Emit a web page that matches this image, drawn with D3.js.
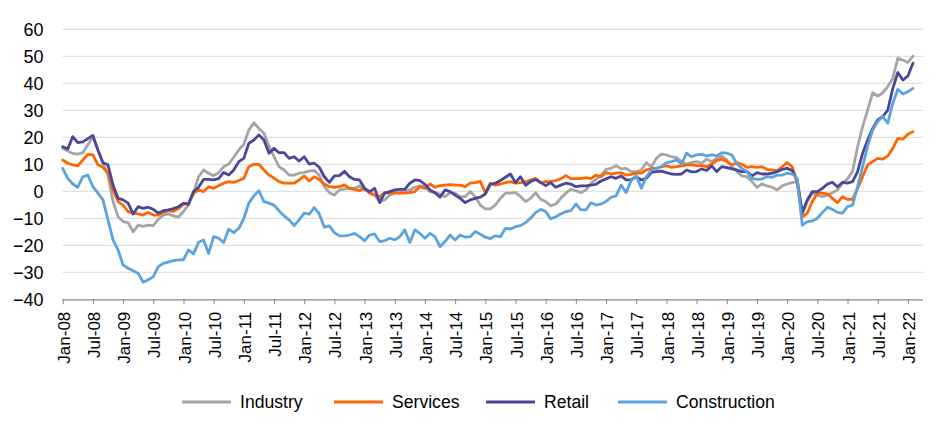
<!DOCTYPE html>
<html><head><meta charset="utf-8">
<script src="https://cdn.jsdelivr.net/npm/d3@7"></script>
<style>html,body{margin:0;padding:0;background:#fff;}svg{display:block;}</style>
</head><body>
<svg id="chart" width="952" height="438"></svg>
<script>
// Monthly categories Jan-08 .. Feb-22
const months = d3.timeMonth.range(new Date(2008,0,1), new Date(2022,2,1));
const seriesNames = ["Industry","Services","Retail","Construction"];
const seriesColors = ["#A5A5A5","#FF6600","#4B4798","#5BA3DC"];
const yTicks = [-40,-30,-20,-10,0,10,20,30,40,50,60];
const fmtTick = d3.timeFormat("%b-%y");

const industry = [
15.9,14.9,14.0,13.8,14.3,17.2,20.2,15.3,10.4,6.0,-3.8,-9.4,
-11.2,-11.6,-15.0,-12.5,-13.0,-12.5,-12.7,-10.4,-8.8,-8.4,-9.1,-9.6,
-7.5,-5.0,-0.7,5.4,7.9,6.7,5.8,6.9,9.1,10.1,12.6,15.3,
17.5,22.7,25.4,23.3,21.5,16.8,12.8,9.1,7.9,6.0,6.0,6.7,
7.0,7.5,7.7,6.0,1.7,-0.5,-1.4,0.5,0.9,1.1,1.1,2.0,
0.5,-0.1,-1.4,-3.8,-3.2,-1.4,-0.7,-0.5,-0.1,0.5,1.5,2.0,
1.7,-0.1,-0.5,-1.0,-2.0,-0.5,-0.7,-2.0,-2.0,-0.1,-2.0,-5.1,
-6.5,-6.5,-5.1,-2.6,-0.7,-0.7,-0.5,-2.0,-3.8,-2.6,-0.5,-3.0,
-3.8,-5.4,-4.7,-2.6,-0.7,0.7,0.2,-0.5,0.5,3.0,4.4,6.0,
8.1,8.5,9.5,8.3,8.5,7.3,7.3,7.9,10.6,9.1,12.2,13.8,
13.5,12.8,12.5,11.0,10.0,10.6,11.0,10.4,11.9,11.0,12.2,13.1,
11.6,9.1,7.3,5.7,5.4,3.6,1.5,2.7,2.0,1.5,0.5,2.0,
2.7,3.2,3.6,-8.5,-3.8,-0.7,-1.4,-2.0,-1.4,-0.5,0.5,3.0,
4.6,7.3,16.5,24.0,30.1,36.5,35.3,36.5,38.8,41.9,49.3,48.6,47.7,50.1];

const services = [
11.6,10.4,9.8,9.4,11.6,13.7,13.5,9.8,8.9,6.7,0.5,-3.8,
-5.1,-7.5,-8.1,-8.4,-8.8,-7.8,-8.8,-8.8,-7.8,-7.2,-7.4,-6.4,
-4.8,-4.4,-0.7,0.5,-0.1,1.7,1.1,2.1,3.0,3.6,3.3,4.0,
4.8,9.1,10.0,10.0,7.9,6.0,4.9,3.6,3.0,3.0,3.0,4.2,
5.7,3.8,5.4,4.4,2.7,1.7,1.5,1.7,2.4,1.1,0.7,0.2,
1.1,-0.7,-1.4,-2.0,-0.5,-0.7,-0.5,-0.7,-0.7,-0.5,-0.1,1.7,
1.1,2.7,1.5,2.1,2.3,2.5,2.3,2.3,1.7,3.0,3.2,3.7,
-0.5,3.0,2.3,2.7,3.2,3.6,3.0,3.2,3.6,4.2,4.8,3.2,
3.6,3.6,4.0,4.6,5.8,4.7,4.7,4.7,5.1,4.7,6.0,5.4,
6.9,6.4,6.7,6.9,6.0,6.3,6.7,6.7,7.9,8.5,8.5,9.1,
9.4,8.9,9.1,9.4,9.8,9.8,9.5,9.5,9.1,10.1,11.4,11.9,
11.0,9.8,10.6,10.0,8.9,9.1,8.9,9.1,8.1,7.9,7.6,9.1,
10.6,9.1,3.0,-9.6,-8.1,-3.8,-0.7,-0.7,-1.0,-2.6,-4.2,-2.0,
-3.0,-3.0,1.1,5.4,9.8,11.0,12.2,11.9,13.1,15.9,19.6,19.3,21.1,22.1];

const retail = [
16.5,15.7,20.2,18.0,18.3,19.5,20.7,15.3,10.6,9.8,2.3,-2.6,
-3.2,-4.4,-8.4,-5.7,-6.3,-5.9,-6.7,-8.1,-7.2,-6.9,-6.4,-5.7,
-4.4,-4.8,-0.1,1.5,4.4,4.4,4.2,4.7,7.0,6.0,7.9,11.0,
12.2,17.8,19.0,20.9,19.0,14.1,15.9,14.3,14.3,12.2,12.8,11.2,
12.8,10.1,10.4,8.9,5.4,3.3,5.7,5.8,7.4,5.4,4.4,4.2,
1.1,-0.1,1.1,-4.2,-0.7,-0.1,0.5,0.7,0.7,3.0,4.2,4.0,
2.6,0.5,-0.5,-2.2,0.5,-0.1,-1.4,-2.6,-4.2,-3.2,-2.6,-2.2,
-1.0,2.6,3.0,4.0,5.2,6.4,3.2,5.4,2.2,3.6,4.4,3.2,
2.1,3.2,1.5,2.3,3.0,2.7,1.7,2.0,2.0,2.3,2.6,3.8,
4.6,5.4,4.8,5.7,4.2,4.3,5.4,4.2,4.8,7.0,7.3,7.5,
6.9,6.4,6.3,6.4,7.9,7.2,7.3,8.3,7.7,9.4,7.3,9.1,
8.8,8.3,7.9,7.3,7.3,5.7,6.9,6.4,6.4,6.7,7.3,8.1,
8.5,7.7,4.2,-7.9,-3.2,-0.1,-0.1,1.1,2.7,3.3,1.7,3.3,
3.0,3.6,7.3,14.1,19.0,23.3,26.4,27.7,30.1,38.1,44.0,41.2,42.7,47.4];

const construction = [
8.5,4.8,2.7,1.5,5.4,6.0,1.7,-0.7,-3.2,-10.6,-18.0,-21.7,
-27.3,-28.5,-29.4,-30.4,-33.7,-32.8,-31.6,-27.9,-26.7,-26.2,-25.7,-25.4,
-25.4,-21.7,-23.2,-18.9,-18.0,-23.0,-16.8,-17.4,-19.0,-14.0,-15.3,-13.7,
-10.0,-4.4,-1.7,0.2,-3.8,-4.4,-5.1,-7.2,-9.1,-10.6,-12.7,-10.6,
-8.1,-8.5,-6.0,-8.4,-13.3,-12.8,-15.3,-16.5,-16.5,-16.2,-15.6,-16.8,
-18.3,-16.2,-15.8,-18.6,-18.3,-17.4,-18.0,-16.8,-14.3,-19.0,-14.3,-15.6,
-17.4,-15.6,-16.8,-20.5,-18.6,-16.2,-18.0,-16.2,-17.0,-16.8,-14.9,-15.9,
-17.0,-17.5,-16.5,-16.8,-13.7,-14.0,-13.1,-12.7,-11.6,-10.0,-7.9,-6.7,
-7.5,-10.2,-9.4,-8.4,-7.5,-7.2,-4.7,-6.9,-6.9,-4.2,-5.1,-4.7,
-3.8,-2.2,-1.7,2.3,-0.5,4.0,5.8,1.1,5.4,7.9,8.5,9.1,
10.6,11.0,11.6,10.1,14.1,12.8,13.5,13.7,13.1,13.5,13.1,14.3,
14.1,13.5,10.1,8.5,7.3,4.8,4.4,4.6,5.4,5.2,6.0,6.0,
6.7,6.4,4.8,-12.5,-11.2,-11.0,-10.0,-7.9,-5.9,-6.7,-7.8,-8.1,
-5.7,-5.1,1.7,9.1,16.8,22.7,25.8,27.7,25.2,32.6,37.8,36.0,36.9,38.1];

const allSeries = [industry, services, retail, construction];

const svg = d3.select("#chart");
svg.append("rect").attr("width",952).attr("height",438).attr("fill","#fff");

const FONT = "'Liberation Sans', Arial, sans-serif";
const plotL = 62.7, plotR = 923, plotT = 29.3, plotB = 299.3;

// month-index scale (Excel date axis with monthly base unit: equal spacing)
const x = d3.scaleLinear().domain([0, months.length + 1]).range([plotL, plotR]);
const y = d3.scaleLinear().domain([-40, 60]).range([plotB, plotT]);

// gridlines
svg.append("g").selectAll("line").data(yTicks.filter(d => d !== -40)).join("line")
  .attr("x1", plotL).attr("x2", plotR)
  .attr("y1", d => y(d)).attr("y2", d => y(d))
  .attr("stroke", "#D9D9D9").attr("stroke-width", 1);

// y axis labels
const yAxis = d3.axisLeft(y).tickValues(yTicks).tickSize(0).tickPadding(0);
const gy = svg.append("g").attr("transform", `translate(43.5,0)`).call(yAxis);
gy.select(".domain").remove();
gy.selectAll("text").attr("font-family", FONT).attr("font-size", 18).attr("fill", "#000")
  .attr("dy", "0.36em").attr("x", 0);

// x axis
const tickIdx = d3.range(0, months.length, 6);
const xAxis = d3.axisBottom(x).tickValues(tickIdx).tickSize(5).tickFormat(i => fmtTick(months[i]));
const gx = svg.append("g").attr("transform", `translate(0,${plotB})`).call(xAxis);
gx.select(".domain").attr("stroke", "#868686").attr("stroke-width", 1.2)
  .attr("d", `M${plotL},0.5H${plotR}`);
gx.selectAll(".tick line").attr("stroke", "#868686");
gx.selectAll("text").attr("font-family", FONT).attr("font-size", 17).attr("fill", "#000")
  .attr("transform", "rotate(-90)").attr("text-anchor", "end")
  .attr("x", -12.4).attr("y", 0.5).attr("dy", "0.36em");

// lines
const line = d3.line().x((d, i) => x(i)).y(d => y(d)).curve(d3.curveLinear);
allSeries.forEach((s, k) => {
  svg.append("path").datum(s).attr("d", line)
    .attr("fill", "none").attr("stroke", seriesColors[k])
    .attr("stroke-width", 2.8).attr("stroke-linejoin", "round").attr("stroke-linecap", "round");
});

// legend
const legX = [182, 334, 486, 618];
const lg = svg.append("g");
seriesNames.forEach((n, k) => {
  lg.append("line").attr("x1", legX[k]).attr("x2", legX[k] + 49)
    .attr("y1", 402).attr("y2", 402).attr("stroke", seriesColors[k]).attr("stroke-width", 2.8);
  lg.append("text").attr("x", legX[k] + 58).attr("y", 402).attr("dy", "0.36em")
    .attr("font-family", FONT).attr("font-size", 17.6).attr("fill", "#000").text(n);
});
</script>
</body></html>
